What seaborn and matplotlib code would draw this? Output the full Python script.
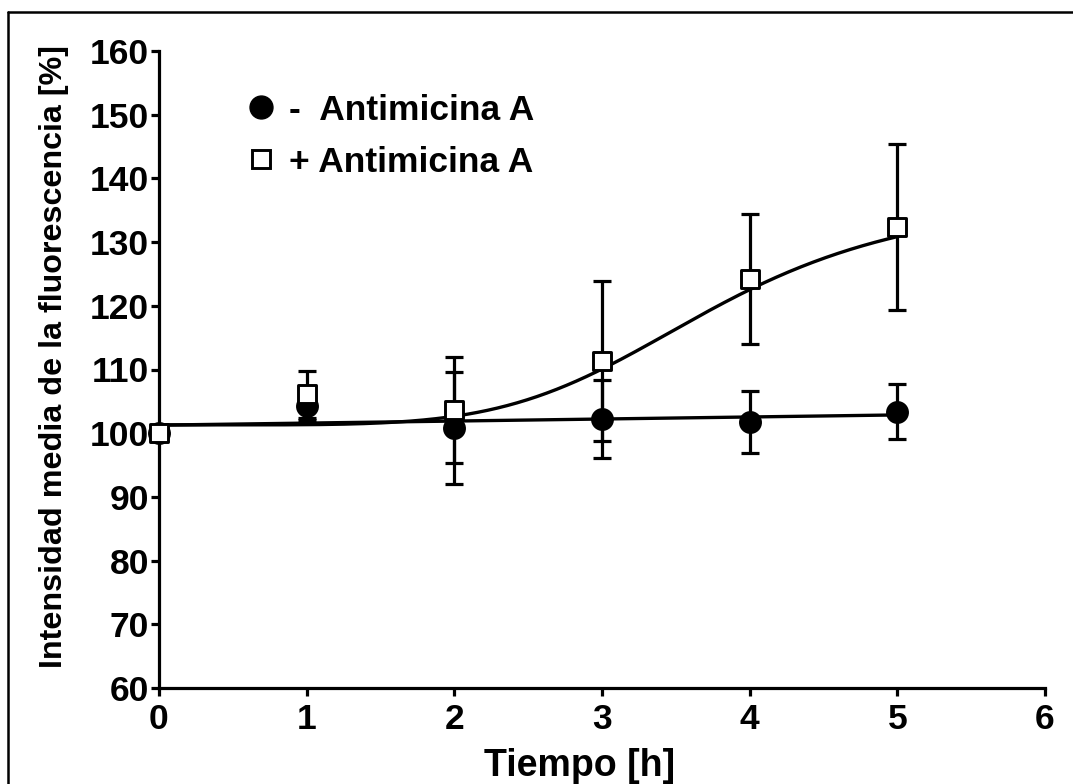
import numpy as np
import pandas as pd
import matplotlib
matplotlib.use("Agg")
import matplotlib.pyplot as plt
import seaborn as sns
from matplotlib.lines import Line2D

# ---- data ----
time_h = [0, 1, 2, 3, 4, 5]
minus_mean = [100.0, 104.2, 100.8, 102.2, 101.8, 103.4]
minus_err = [0.0, 2.1, 8.8, 6.1, 4.9, 4.3]
plus_mean = [100.0, 106.1, 103.6, 111.3, 124.2, 132.4]
plus_err = [0.0, 3.7, 8.3, 12.6, 10.2, 13.0]

label_minus = "-  Antimicina A"
label_plus = "+ Antimicina A"
x_ticks = [0, 1, 2, 3, 4, 5, 6]
y_ticks = [60, 70, 80, 90, 100, 110, 120, 130, 140, 150, 160]

# fitted-curve parameters (Hill model for + Antimicina A)
hill_bottom, hill_top, hill_ec50, hill_n = 101.3, 137.3, 3.73, 5.2

sns.set_theme(style="ticks")
plt.rcParams['font.family'] = ['Liberation Sans', 'DejaVu Sans']
plt.rcParams['font.weight'] = 'bold'
for k in ['text.color', 'axes.labelcolor', 'xtick.color', 'ytick.color', 'axes.edgecolor']:
    plt.rcParams[k] = 'black'

fig = plt.figure(figsize=(10.73, 7.84), dpi=100)
ax = fig.add_axes([159/1073, 1-688/784, (1045-159)/1073, (688-51)/784])

df = pd.DataFrame({"t": time_h, "minus": minus_mean, "minus_err": minus_err,
                   "plus": plus_mean, "plus_err": plus_err})

# fitted curves
xf = np.linspace(0, 5, 300)
coef = np.polyfit(df["t"], df["minus"], 1)
y_minus_fit = np.polyval(coef, xf)
y_plus_fit = hill_bottom + (hill_top - hill_bottom) * xf**hill_n / (hill_ec50**hill_n + xf**hill_n)
fits = pd.DataFrame({"t": xf, "minus_fit": y_minus_fit, "plus_fit": y_plus_fit})
sns.lineplot(data=fits, x="t", y="minus_fit", ax=ax, color="black", lw=2.4, zorder=2)
sns.lineplot(data=fits, x="t", y="plus_fit", ax=ax, color="black", lw=2.4, zorder=2)

# error bars
ax.errorbar(df["t"], df["minus"], yerr=df["minus_err"], fmt="none", ecolor="black",
            elinewidth=2.3, capsize=6.5, capthick=2.3, zorder=3)
ax.errorbar(df["t"], df["plus"], yerr=df["plus_err"], fmt="none", ecolor="black",
            elinewidth=2.3, capsize=6.5, capthick=2.3, zorder=3)

# markers
sns.scatterplot(data=df, x="t", y="minus", ax=ax, marker="o", s=16.5**2, color="black",
                edgecolor="black", linewidth=0, zorder=4, clip_on=False)
sns.scatterplot(data=df, x="t", y="plus", ax=ax, marker="s", s=12.5**2, color="white",
                edgecolor="black", linewidth=2.1, zorder=5, clip_on=False)

ax.set_xlim(0, 6)
ax.set_ylim(60, 160)
ax.set_xticks(x_ticks)
ax.set_yticks(y_ticks)
ax.tick_params(axis="both", direction="out", length=6, width=2.3, labelsize=25.5)
ax.tick_params(axis="x", pad=5)
ax.tick_params(axis="y", pad=1)
for lab in ax.get_xticklabels() + ax.get_yticklabels():
    lab.set_fontweight("bold")
for side in ["top", "right"]:
    ax.spines[side].set_visible(False)
for side in ["left", "bottom"]:
    ax.spines[side].set_linewidth(2.3)
    ax.spines[side].set_color("black")

ax.set_xlabel("Tiempo [h]", fontsize=27, fontweight="bold")
ax.xaxis.set_label_coords((580-159)/886, (688-776)/637, transform=ax.transAxes)
ax.xaxis.label.set_va("baseline")
ax.set_ylabel("Intensidad media de la fluorescencia [%]", fontsize=23.2, fontweight="bold")
ax.yaxis.set_label_coords(-(159-54)/886, (688-356)/637, transform=ax.transAxes)
ax.yaxis.label.set_va("center")

handles = [
    Line2D([], [], marker="o", ls="none", color="black", markersize=16.5),
    Line2D([], [], marker="s", ls="none", markerfacecolor="white", markeredgecolor="black",
           markeredgewidth=2.1, markersize=12.5),
]
leg = ax.legend(handles, [label_minus, label_plus], loc="upper left",
                bbox_to_anchor=(0.0586, 0.983), frameon=False, handletextpad=0.3,
                labelspacing=0.54, prop={"size": 25.5, "weight": "bold"}, handlelength=1.0)

# figure border (top and left edges)
fig.add_artist(Line2D([8/1073, 1.0], [1-11.5/784, 1-11.5/784], color="black", lw=1.8,
                      transform=fig.transFigure))
fig.add_artist(Line2D([8/1073, 8/1073], [0.0, 1-11.5/784], color="black", lw=1.8,
                      transform=fig.transFigure))

fig.savefig("out.png", dpi=100)
